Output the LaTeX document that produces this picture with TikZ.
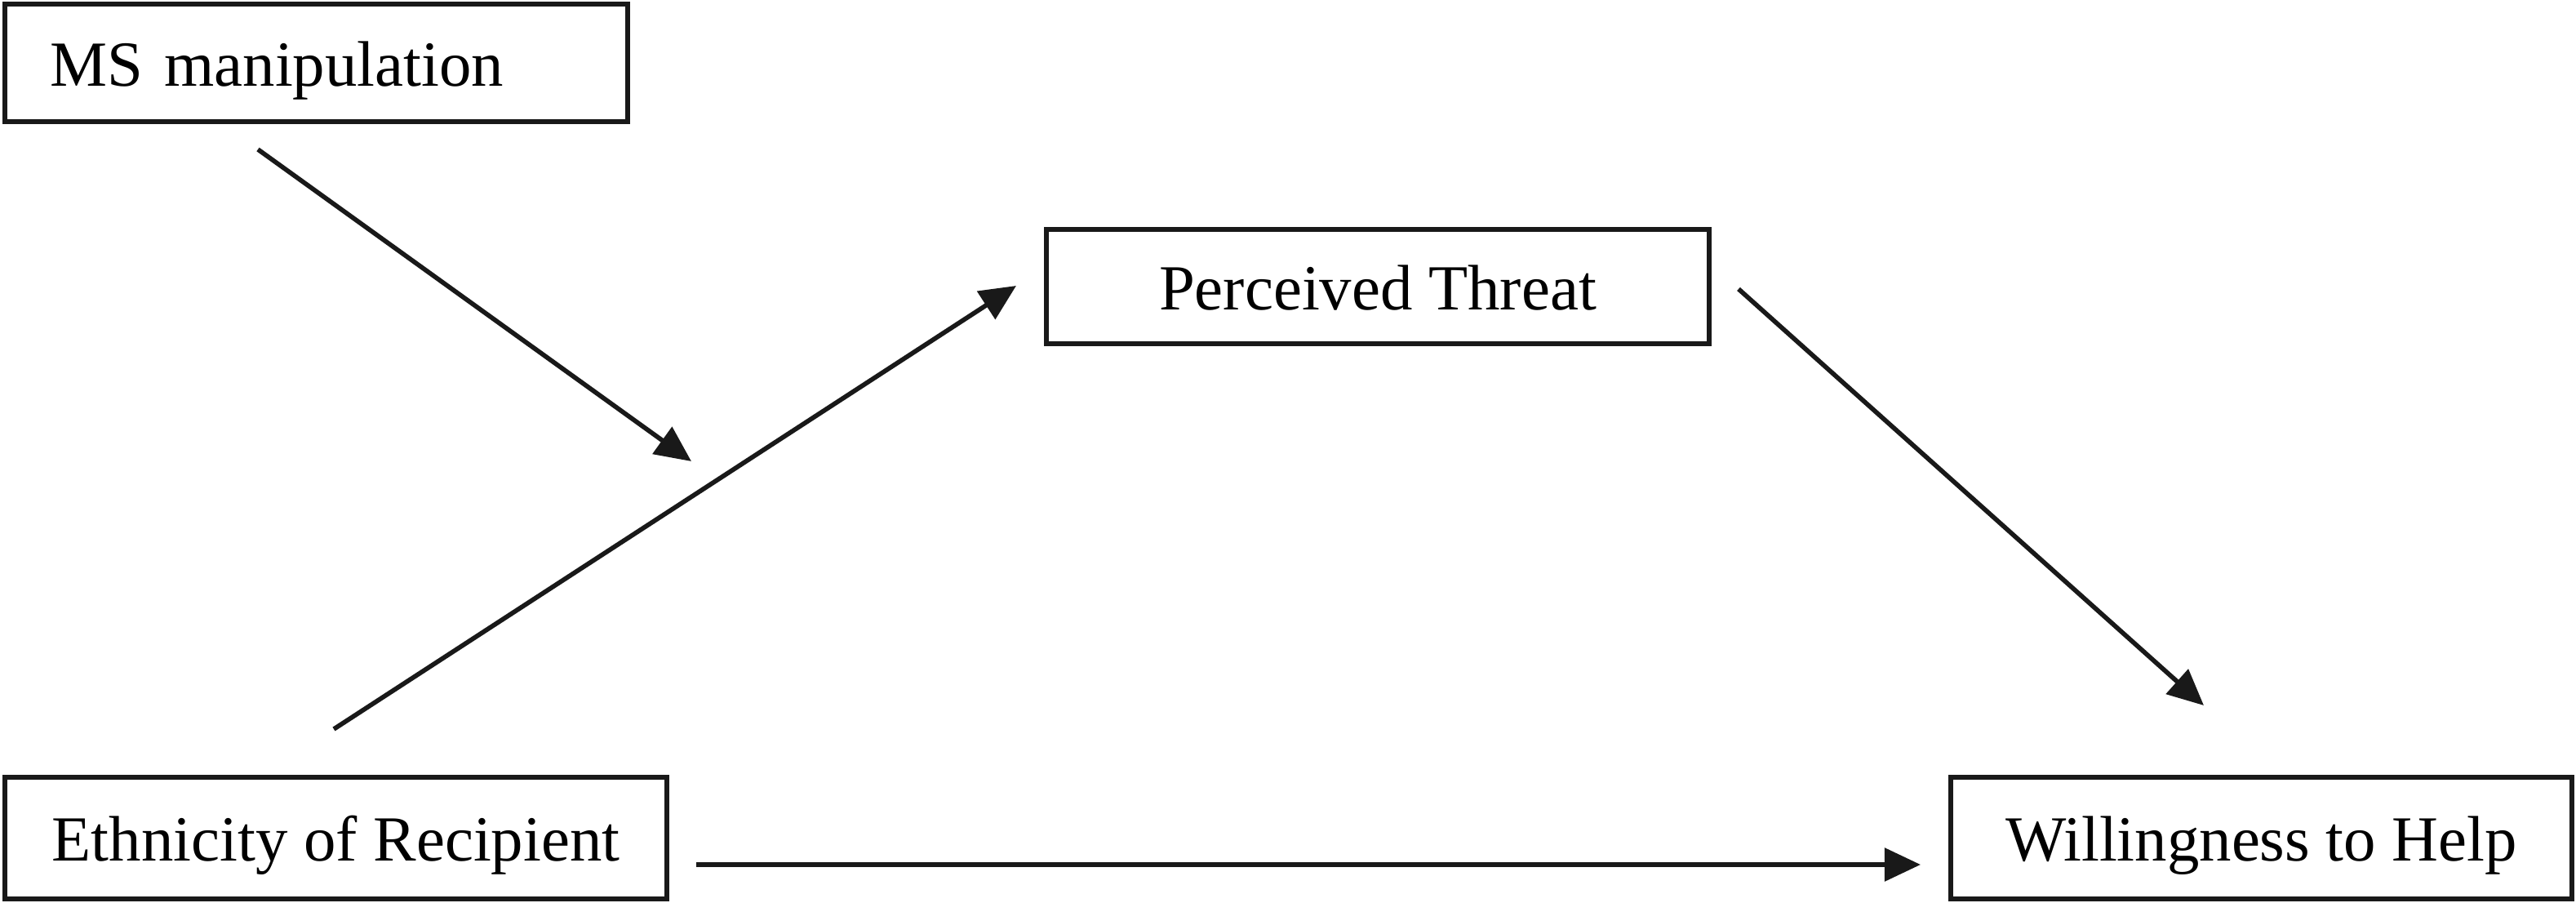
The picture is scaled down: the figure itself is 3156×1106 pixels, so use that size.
\documentclass[tikz,border=0pt]{standalone}
\usepackage{fontspec}
\setmainfont{Liberation Serif}
\usetikzlibrary{arrows.meta}
\begin{document}
\begin{tikzpicture}[x=0.01cm,y=-0.01cm,
  varbox/.style={draw=black!90, line width=1.8pt, rectangle, inner xsep=0pt, inner ysep=0pt,
    font=\fontsize{22.4}{26}\selectfont, text height=0.76cm, text depth=0.2cm},
  conn/.style={draw=black!90, line width=1.6pt, -{Triangle[length=0.44cm,width=0.40cm]}}]
\useasboundingbox (0,0) rectangle (3156,1106);
\node[varbox, minimum width=7.63cm, minimum height=1.44cm, text width=6.52cm, align=left, inner xsep=0.55cm] (ms) at (387.5,77) {MS manipulation};
\node[varbox, minimum width=8.12cm, minimum height=1.40cm] (pt) at (1688,351) {Perceived Threat};
\node[varbox, minimum width=8.11cm, minimum height=1.49cm] (eth) at (411.5,1026.5) {Ethnicity of Recipient};
\node[varbox, minimum width=7.61cm, minimum height=1.49cm] (wth) at (2770.5,1026.5) {Willingness to Help};
\coordinate (msA) at (316,183);
\coordinate (msB) at (847,565);
\coordinate (ethA) at (409,893);
\coordinate (ptA) at (1245,350);
\coordinate (ptB) at (2130,354);
\coordinate (wthA) at (2700,864);
\coordinate (ethB) at (853,1059);
\coordinate (wthB) at (2353,1059);
\draw[conn] (msA) -- (msB);
\draw[conn] (ethA) -- (ptA);
\draw[conn] (ptB) -- (wthA);
\draw[conn] (ethB) -- (wthB);
\end{tikzpicture}
\end{document}
